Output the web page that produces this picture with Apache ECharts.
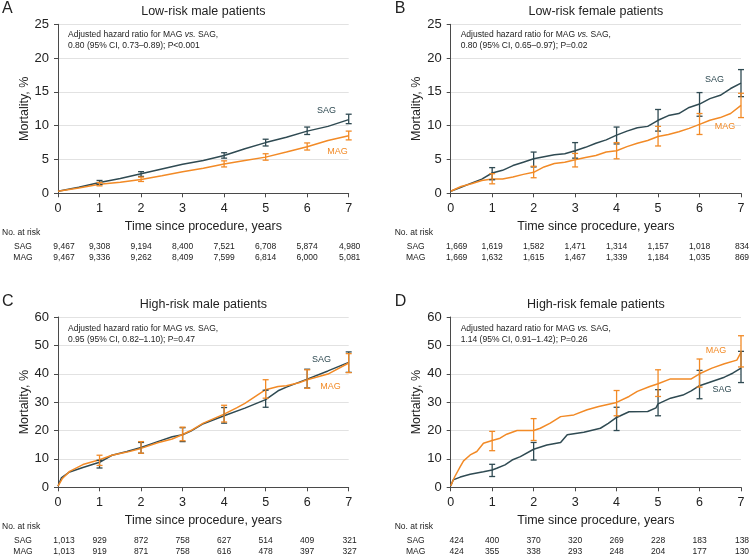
<!DOCTYPE html>
<html><head><meta charset="utf-8">
<script src="https://cdn.jsdelivr.net/npm/echarts@6/dist/echarts.min.js"></script>
<style>html,body{margin:0;padding:0;background:#fff}#c{width:752px;height:557px}</style>
</head><body><div id="c"></div>
<script>
// ---------- DATA ----------
const years = [0, 1, 2, 3, 4, 5, 6, 7];
const panelTitles = ['Low-risk male patients', 'Low-risk female patients', 'High-risk male patients', 'High-risk female patients'];
const panelLetters = ['A', 'B', 'C', 'D'];
const hrText = ['0.80 (95% CI, 0.73\u20130.89); P<0.001', '0.80 (95% CI, 0.65\u20130.97); P=0.02', '0.95 (95% CI, 0.82\u20131.10); P=0.47', '1.14 (95% CI, 0.91\u20131.42); P=0.26'];

// Panel A: low-risk male
const aSag = [[0,0.3],[0.5,0.9],[1,1.6],[1.5,2.2],[2,2.9],[2.5,3.6],[3,4.3],[3.5,4.85],[4,5.6],[4.5,6.6],[5,7.5],[5.5,8.3],[6,9.2],[6.5,9.9],[7,10.9]];
const aMag = [[0,0.3],[0.5,0.8],[1,1.35],[1.5,1.65],[2,2.05],[2.5,2.6],[3,3.2],[3.5,3.7],[4,4.35],[4.5,4.85],[5,5.35],[5.5,6.1],[6,6.9],[6.5,7.8],[7,8.5]];
const aSagCI = [[1,1.3,1.9],[2,2.5,3.2],[4,5.2,6.0],[5,7.0,8.0],[6,8.7,9.8],[7,10.3,11.7]];
const aMagCI = [[1,1.1,1.6],[2,1.75,2.4],[4,3.9,4.8],[5,4.9,5.85],[6,6.4,7.45],[7,7.9,9.2]];
const aRiskSag = [9467, 9308, 9194, 8400, 7521, 6708, 5874, 4980];
const aRiskMag = [9467, 9336, 9262, 8409, 7599, 6814, 6000, 5081];

// Panel B: low-risk female
const bSag = [[0,0.3],[0.25,0.9],[0.5,1.5],[0.75,2.1],[1,3.0],[1.25,3.4],[1.5,4.1],[1.75,4.6],[2,5.1],[2.25,5.4],[2.5,5.7],[2.75,5.85],[3,6.3],[3.25,6.8],[3.5,7.4],[3.75,7.9],[4,8.6],[4.25,9.2],[4.5,9.7],[4.75,9.9],[5,10.8],[5.25,11.5],[5.5,11.8],[5.75,12.7],[6,13.2],[6.25,14.0],[6.5,14.5],[6.75,15.5],[7,16.3]];
const bMag = [[0,0.3],[0.25,1.0],[0.5,1.4],[0.75,1.9],[1,2.1],[1.25,2.1],[1.5,2.4],[1.75,2.8],[2,3.1],[2.25,3.9],[2.5,4.4],[2.75,4.6],[3,4.95],[3.25,5.3],[3.5,5.6],[3.75,6.1],[4,6.3],[4.25,6.9],[4.5,7.4],[4.75,7.8],[5,8.4],[5.25,8.7],[5.5,9.1],[5.75,9.6],[6,10.2],[6.25,10.8],[6.5,11.2],[6.75,11.8],[7,13.0]];
const bSagCI = [[1,2.0,3.8],[2,3.9,6.1],[3,5.2,7.5],[4,7.3,9.8],[5,9.2,12.4],[6,11.4,14.9],[7,14.3,18.3]];
const bMagCI = [[1,1.4,2.9],[2,2.3,4.0],[3,3.9,5.9],[4,5.1,7.5],[5,7.0,9.9],[6,8.7,11.8],[7,11.2,14.8]];
const bRiskSag = [1669, 1619, 1582, 1471, 1314, 1157, 1018, 834];
const bRiskMag = [1669, 1632, 1615, 1467, 1339, 1184, 1035, 869];

// Panel C: high-risk male
const cSag = [[0,0.4],[0.08,3.3],[0.28,5.4],[0.6,7.0],[1,8.8],[1.3,11.3],[1.66,12.6],[2,14.0],[2.4,16.1],[2.75,17.8],[3,18.5],[3.2,19.8],[3.5,22.4],[4,25.2],[4.5,27.9],[5,30.9],[5.3,34.0],[5.5,35.3],[6,38.1],[6.5,41.0],[7,44.0]];
const cMag = [[0,0.4],[0.1,3.0],[0.28,5.6],[0.6,8.0],[1,9.7],[1.3,11.3],[1.66,12.4],[2,13.7],[2.4,15.7],[2.75,17.0],[3,18.6],[3.2,20.0],[3.5,22.6],[4,25.8],[4.3,28.0],[4.5,29.6],[4.8,32.5],[5,34.4],[5.3,35.5],[5.5,35.8],[5.8,36.8],[6,37.9],[6.5,39.9],[7,43.8]];
const cSagCI = [[1,6.8,9.5],[2,12.0,15.8],[3,16.1,21.0],[4,22.6,28.1],[5,28.2,34.2],[6,35.0,41.6],[7,40.5,47.7]];
const cMagCI = [[1,7.7,11.3],[2,12.0,16.1],[3,16.4,21.2],[4,23.0,28.9],[5,31.4,37.9],[6,34.9,41.4],[7,40.4,47.1]];
const cRiskSag = [1013, 929, 872, 758, 627, 514, 409, 321];
const cRiskMag = [1013, 919, 871, 758, 616, 478, 397, 327];

// Panel D: high-risk female
const dSag = [[0,0.5],[0.06,2.6],[0.23,3.6],[0.47,4.6],[0.79,5.5],[1,6.1],[1.11,6.7],[1.31,7.9],[1.48,9.6],[1.68,10.8],[2,13.4],[2.32,14.9],[2.65,15.8],[2.81,18.5],[3.21,19.4],[3.61,20.8],[3.8,22.5],[4,24.6],[4.3,26.6],[4.75,26.7],[4.95,28.0],[5,29.4],[5.3,31.4],[5.6,32.5],[5.8,34.0],[6,35.8],[6.3,37.3],[6.6,38.8],[6.8,40.2],[7,42.0]];
const dMag = [[0,0.5],[0.1,3.8],[0.23,7.3],[0.31,9.3],[0.47,11.4],[0.63,12.6],[0.79,15.5],[1,16.5],[1.19,17.3],[1.35,18.7],[1.6,20.0],[2,20.0],[2.16,20.8],[2.4,22.6],[2.65,24.9],[2.97,25.5],[3.29,27.3],[3.57,28.5],[4,29.9],[4.3,32.0],[4.5,33.8],[4.8,35.5],[5,36.5],[5.3,38.2],[5.8,38.2],[6,40.0],[6.3,42.0],[6.6,43.5],[6.9,44.8],[7,47.5]];
const dSagCI = [[1,3.8,8.1],[2,9.6,15.8],[4,20.0,28.2],[5,25.2,34.4],[6,31.2,41.2],[7,36.9,47.9]];
const dMagCI = [[1,12.9,19.7],[2,16.5,24.2],[4,25.2,34.1],[5,32.0,41.4],[6,35.3,45.2],[7,42.4,53.4]];
const dRiskSag = [424, 400, 370, 320, 269, 228, 183, 138];
const dRiskMag = [424, 355, 338, 293, 248, 204, 177, 130];

const yMaxes = [25, 25, 60, 60];
const yIntervals = [5, 5, 10, 10];

// ---------- CHART ----------
const C_SAG = '#2f4a52', C_MAG = '#f28a26';
const FONT = 'Liberation Sans, Arial, Helvetica, sans-serif';
const sagData = [aSag, bSag, cSag, dSag];
const magData = [aMag, bMag, cMag, dMag];
const sagCI = [aSagCI, bSagCI, cSagCI, dSagCI];
const magCI = [aMagCI, bMagCI, cMagCI, dMagCI];
const riskSag = [aRiskSag, bRiskSag, cRiskSag, dRiskSag];
const riskMag = [aRiskMag, bRiskMag, cRiskMag, dRiskMag];

const grids = [
  {left: 58, top: 24.3, width: 290.7, height: 169},
  {left: 450.7, top: 24.3, width: 290.3, height: 169},
  {left: 58, top: 317, width: 290.7, height: 170.3},
  {left: 450.7, top: 317, width: 290.3, height: 170.3}
];

const axisColor = '#4a4a4a';
const xAxes = grids.map((g, i) => ({
  type: 'value', gridIndex: i, min: 0, max: 7, interval: 1,
  axisLine: {show: true, lineStyle: {color: axisColor, width: 1}},
  axisTick: {show: true, length: 4, lineStyle: {color: axisColor}},
  axisLabel: {fontSize: 12.5, color: '#222', margin: 9, fontFamily: FONT},
  splitLine: {show: false},
  name: 'Time since procedure, years', nameLocation: 'middle', nameGap: 27,
  nameTextStyle: {fontSize: 12.5, color: '#222', fontFamily: FONT}
}));
const yAxes = grids.map((g, i) => ({
  type: 'value', gridIndex: i, min: 0, max: yMaxes[i], interval: yIntervals[i],
  axisLine: {show: true, lineStyle: {color: axisColor, width: 1}},
  axisTick: {show: true, length: 4, lineStyle: {color: axisColor}},
  axisLabel: {fontSize: 13, color: '#222', margin: 9, fontFamily: FONT},
  splitLine: {show: true, lineStyle: {color: '#e2e2e2', width: 1}},
  name: 'Mortality, %', nameLocation: 'middle', nameGap: 23,
  nameTextStyle: {fontSize: 12.5, color: '#222', fontFamily: FONT}
}));

function errBar(color) {
  return function (params, api) {
    const lo = api.coord([api.value(0), api.value(1)]);
    const hi = api.coord([api.value(0), api.value(2)]);
    const w = 3;
    const st = {stroke: color, lineWidth: 1.3};
    return {type: 'group', children: [
      {type: 'line', shape: {x1: lo[0], y1: lo[1], x2: hi[0], y2: hi[1]}, style: st},
      {type: 'line', shape: {x1: lo[0] - w, y1: lo[1], x2: lo[0] + w, y2: lo[1]}, style: st},
      {type: 'line', shape: {x1: hi[0] - w, y1: hi[1], x2: hi[0] + w, y2: hi[1]}, style: st}
    ]};
  };
}

const series = [];
for (let i = 0; i < 4; i++) {
  series.push({type: 'line', xAxisIndex: i, yAxisIndex: i, data: sagData[i], showSymbol: false, symbol: 'none',
    lineStyle: {color: C_SAG, width: 1.5}, z: 3, animation: false});
  series.push({type: 'line', xAxisIndex: i, yAxisIndex: i, data: magData[i], showSymbol: false, symbol: 'none',
    lineStyle: {color: C_MAG, width: 1.5}, z: 3, animation: false});
  series.push({type: 'custom', xAxisIndex: i, yAxisIndex: i, data: sagCI[i], renderItem: errBar(C_SAG), z: 4, animation: false});
  series.push({type: 'custom', xAxisIndex: i, yAxisIndex: i, data: magCI[i], renderItem: errBar(C_MAG), z: 4, animation: false});
}

const chart = echarts.init(document.getElementById('c'), null, {renderer: 'canvas'});
chart.setOption({
  animation: false,
  backgroundColor: '#fff',
  grid: grids,
  xAxis: xAxes,
  yAxis: yAxes,
  series: series
});

// ---------- Text decorations ----------
const fmt = n => n.toLocaleString('en-US');
const graphics = [];
function txt(x, y, s, size, align, color, extra) {
  graphics.push({type: 'text', x: x, y: y, silent: true,
    style: Object.assign({text: s, fontSize: size, fontFamily: FONT, fill: color || '#222',
      align: align || 'left', verticalAlign: 'middle'}, extra || {})});
}
const seriesLabelPos = [
  [[326.5, 111], [337.5, 152]],
  [[714.5, 80], [725, 127]],
  [[321.5, 360], [330.5, 386.7]],
  [[722, 390], [716, 351]]
];
for (let i = 0; i < 4; i++) {
  const g = grids[i];
  const bottom = g.top + g.height;
  const titleY = i < 2 ? 12 : 305;
  const letterY = i < 2 ? 8.5 : 302;
  txt(g.left + g.width / 2, titleY, panelTitles[i], 12.5, 'center', '#222');
  txt(g.left - 56, letterY, panelLetters[i], 16, 'left', '#222');
  const a1 = i < 2 ? 10.7 : 12;
  graphics.push({type: 'text', x: g.left + 10, y: g.top + a1, silent: true,
    style: {text: '{n|Adjusted hazard ratio for MAG }{i|vs.}{n| SAG,}', verticalAlign: 'middle',
      rich: {n: {fontSize: 8.5, fontFamily: FONT, fill: '#222'}, i: {fontSize: 8.5, fontFamily: FONT, fontStyle: 'italic', fill: '#222'}}}});
  txt(g.left + 10, g.top + a1 + 10.2, hrText[i], 8.5, 'left', '#222');
  // series labels
  txt(seriesLabelPos[i][0][0], seriesLabelPos[i][0][1], 'SAG', 9, 'center', C_SAG);
  txt(seriesLabelPos[i][1][0], seriesLabelPos[i][1][1], 'MAG', 9, 'center', C_MAG);
  // at-risk table
  txt(g.left - 56, bottom + 39, 'No. at risk', 8.5, 'left', '#222');
  txt(g.left - 35, bottom + 53.3, 'SAG', 8.5, 'center', '#222');
  txt(g.left - 35, bottom + 64.6, 'MAG', 8.5, 'center', '#222');
  years.forEach((t, k) => {
    const px = chart.convertToPixel({xAxisIndex: i}, t) + (k === 0 ? 6 : (k === 7 ? 1 : 0));
    txt(px, bottom + 53.3, fmt(riskSag[i][k]), 8.5, 'center', '#222');
    txt(px, bottom + 64.6, fmt(riskMag[i][k]), 8.5, 'center', '#222');
  });
}
chart.setOption({graphic: graphics});
</script>
</body></html>
